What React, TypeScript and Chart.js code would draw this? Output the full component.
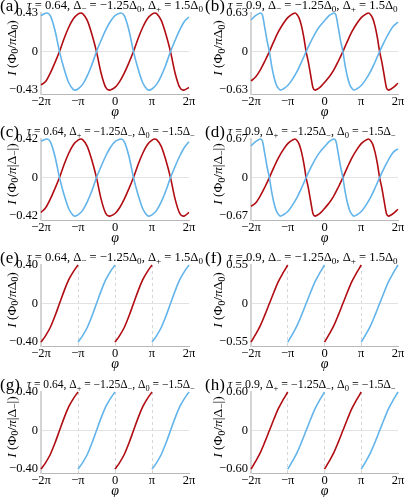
import React, { useEffect, useRef } from "react";
import { Chart, registerables } from "chart.js";

Chart.register(...registerables);

const SERIF = '"Liberation Serif", "Times New Roman", serif';
const BLUE = "#62b4ea";
const RED = "#b00c12";

// x axis (in units of π)
const xTicks = [-2, -1, 0, 1, 2];
const xTickLabels = ["−2π", "−π", "0", "π", "2π"];

// panel texts
const letters = ["(a)", "(b)", "(c)", "(d)", "(e)", "(f)", "(g)", "(h)"];
const titles = [
  "τ = 0.64, Δ_− = −1.25Δ_0, Δ_+ = 1.5Δ_0",
  "τ = 0.9, Δ_− = −1.25Δ_0, Δ_+ = 1.5Δ_0",
  "τ = 0.64, Δ_+ = −1.25Δ_−, Δ_0 = −1.5Δ_−",
  "τ = 0.9, Δ_+ = −1.25Δ_−, Δ_0 = −1.5Δ_−",
  "τ = 0.64, Δ_− = −1.25Δ_0, Δ_+ = 1.5Δ_0",
  "τ = 0.9, Δ_− = −1.25Δ_0, Δ_+ = 1.5Δ_0",
  "τ = 0.64, Δ_+ = −1.25Δ_−, Δ_0 = −1.5Δ_−",
  "τ = 0.9, Δ_+ = −1.25Δ_−, Δ_0 = −1.5Δ_−",
];
const yTitles = [
  "I (Φ_0/πΔ_0)",
  "I (Φ_0/πΔ_0)",
  "I (Φ_0/π|Δ_−|)",
  "I (Φ_0/π|Δ_−|)",
  "I (Φ_0/πΔ_0)",
  "I (Φ_0/πΔ_0)",
  "I (Φ_0/π|Δ_−|)",
  "I (Φ_0/π|Δ_−|)",
];
const yMax = [0.43, 0.63, 0.42, 0.67, 0.4, 0.55, 0.4, 0.6];
const yTickLabels = [
  ["−0.43", "0", "0.43"],
  ["−0.63", "0", "0.63"],
  ["−0.42", "0", "0.42"],
  ["−0.67", "0", "0.67"],
  ["−0.40", "0", "0.40"],
  ["−0.55", "0", "0.55"],
  ["−0.40", "0", "0.40"],
  ["−0.60", "0", "0.60"],
];

// phase grids (units of π)
const phi64Blue = [-2, -1.875, -1.84, -1.75, -1.625, -1.5, -1.375, -1.25, -1.125, -1.08, -1, -0.875, -0.75, -0.625, -0.5, -0.375, -0.25, -0.125, 0, 0.125, 0.16, 0.25, 0.375, 0.5, 0.625, 0.75, 0.875, 0.92, 1, 1.125, 1.25, 1.375, 1.5, 1.625, 1.75, 1.875, 2];
const phi64Red = [-2, -1.875, -1.75, -1.625, -1.5, -1.375, -1.25, -1.125, -1, -0.92, -0.875, -0.75, -0.625, -0.5, -0.375, -0.25, -0.16, -0.125, 0, 0.125, 0.25, 0.375, 0.5, 0.625, 0.75, 0.875, 1, 1.08, 1.125, 1.25, 1.375, 1.5, 1.625, 1.75, 1.84, 1.875, 2];
const phi9Blue = [-2, -1.875, -1.8125, -1.74, -1.6875, -1.625, -1.5625, -1.5, -1.4375, -1.375, -1.3125, -1.25, -1.2, -1.125, -1, -0.875, -0.75, -0.625, -0.5, -0.375, -0.25, -0.125, 0, 0.125, 0.1875, 0.26, 0.3125, 0.375, 0.4375, 0.5, 0.5625, 0.625, 0.6875, 0.75, 0.8, 0.875, 1, 1.125, 1.25, 1.375, 1.5, 1.625, 1.75, 1.875, 2];
const phi9Red = [-2, -1.875, -1.75, -1.625, -1.5, -1.375, -1.25, -1.125, -1, -0.875, -0.8, -0.75, -0.6875, -0.625, -0.5625, -0.5, -0.4375, -0.375, -0.3125, -0.26, -0.1875, -0.125, 0, 0.125, 0.25, 0.375, 0.5, 0.625, 0.75, 0.875, 1, 1.125, 1.2, 1.25, 1.3125, 1.375, 1.4375, 1.5, 1.5625, 1.625, 1.6875, 1.74, 1.8125, 1.875, 2];
const phiSaw = [-2, -1.875, -1.75, -1.625, -1.5, -1.375, -1.25, -1.125, -1, -0.875, -0.75, -0.625, -0.5, -0.375, -0.25, -0.125, 0, 0.125, 0.25, 0.375, 0.5, 0.625, 0.75, 0.875, 1, 1.125, 1.25, 1.375, 1.5, 1.625, 1.75, 1.875, 2];

// (a)
const blueA = [0.4, 0.428, 0.43, 0.4, 0.241, 0, -0.194, -0.348, -0.424, -0.43, -0.417, -0.366, -0.271, -0.146, 0, 0.125, 0.241, 0.335, 0.4, 0.428, 0.43, 0.4, 0.241, 0, -0.194, -0.348, -0.424, -0.43, -0.417, -0.366, -0.271, -0.146, 0, 0.125, 0.241, 0.335, 0.385];
const redA = [-0.37, -0.335, -0.241, -0.125, 0, 0.146, 0.271, 0.366, 0.417, 0.43, 0.424, 0.348, 0.194, 0, -0.241, -0.4, -0.43, -0.428, -0.4, -0.335, -0.241, -0.125, 0, 0.146, 0.271, 0.366, 0.417, 0.43, 0.424, 0.348, 0.194, 0, -0.241, -0.4, -0.43, -0.428, -0.4];
// (b)
const blueB = [0.517, 0.586, 0.611, 0.63, 0.592, 0.391, 0.176, 0, -0.233, -0.416, -0.542, -0.605, -0.63, -0.611, -0.554, -0.454, -0.328, -0.17, 0, 0.158, 0.302, 0.416, 0.504, 0.586, 0.611, 0.63, 0.592, 0.391, 0.176, 0, -0.233, -0.416, -0.542, -0.605, -0.63, -0.611, -0.554, -0.454, -0.328, -0.17, 0, 0.158, 0.302, 0.416, 0.48];
const redB = [-0.48, -0.416, -0.302, -0.158, 0, 0.17, 0.328, 0.454, 0.554, 0.611, 0.63, 0.605, 0.542, 0.416, 0.233, 0, -0.176, -0.391, -0.592, -0.63, -0.611, -0.586, -0.504, -0.416, -0.302, -0.158, 0, 0.17, 0.328, 0.454, 0.554, 0.611, 0.63, 0.605, 0.542, 0.416, 0.233, 0, -0.176, -0.391, -0.592, -0.63, -0.611, -0.586, -0.517];
// (c)
const blueC = [0.395, 0.418, 0.42, 0.391, 0.235, 0, -0.189, -0.34, -0.414, -0.42, -0.407, -0.357, -0.265, -0.143, 0, 0.122, 0.235, 0.328, 0.391, 0.418, 0.42, 0.391, 0.235, 0, -0.189, -0.34, -0.414, -0.42, -0.407, -0.357, -0.265, -0.143, 0, 0.122, 0.235, 0.328, 0.39];
const redC = [-0.38, -0.328, -0.235, -0.122, 0, 0.143, 0.265, 0.357, 0.407, 0.42, 0.414, 0.34, 0.189, 0, -0.235, -0.391, -0.42, -0.418, -0.391, -0.328, -0.235, -0.122, 0, 0.143, 0.265, 0.357, 0.407, 0.42, 0.414, 0.34, 0.189, 0, -0.235, -0.391, -0.42, -0.418, -0.38];
// (d)
const blueD = [0.55, 0.623, 0.65, 0.67, 0.63, 0.415, 0.188, 0, -0.248, -0.442, -0.576, -0.643, -0.67, -0.65, -0.59, -0.482, -0.348, -0.181, 0, 0.168, 0.322, 0.442, 0.536, 0.623, 0.65, 0.67, 0.63, 0.415, 0.188, 0, -0.248, -0.442, -0.576, -0.643, -0.67, -0.65, -0.59, -0.482, -0.348, -0.181, 0, 0.168, 0.322, 0.442, 0.5];
const redD = [-0.5, -0.442, -0.322, -0.168, 0, 0.181, 0.348, 0.482, 0.59, 0.65, 0.67, 0.643, 0.576, 0.442, 0.248, 0, -0.188, -0.415, -0.63, -0.67, -0.65, -0.623, -0.536, -0.442, -0.322, -0.168, 0, 0.181, 0.348, 0.482, 0.59, 0.65, 0.67, 0.643, 0.576, 0.442, 0.248, 0, -0.188, -0.415, -0.63, -0.67, -0.65, -0.623, -0.55];
// (e)
const redE = [-0.4, -0.332, -0.248, -0.132, 0, 0.132, 0.248, 0.332, 0.4, null, null, null, null, null, null, null, -0.4, -0.332, -0.248, -0.132, 0, 0.132, 0.248, 0.332, 0.4, null, null, null, null, null, null, null, null];
const blueE = [null, null, null, null, null, null, null, null, -0.4, -0.332, -0.248, -0.132, 0, 0.132, 0.248, 0.332, 0.4, null, null, null, null, null, null, null, -0.4, -0.332, -0.248, -0.132, 0, 0.132, 0.248, 0.332, 0.4];
// (f)
const redF = [-0.55, -0.44, -0.319, -0.165, 0, 0.165, 0.319, 0.44, 0.55, null, null, null, null, null, null, null, -0.55, -0.44, -0.319, -0.165, 0, 0.165, 0.319, 0.44, 0.55, null, null, null, null, null, null, null, null];
const blueF = [null, null, null, null, null, null, null, null, -0.55, -0.44, -0.319, -0.165, 0, 0.165, 0.319, 0.44, 0.55, null, null, null, null, null, null, null, -0.55, -0.44, -0.319, -0.165, 0, 0.165, 0.319, 0.44, 0.55];
// (g)
const redG = [-0.4, -0.332, -0.248, -0.132, 0, 0.132, 0.248, 0.332, 0.4, null, null, null, null, null, null, null, -0.4, -0.332, -0.248, -0.132, 0, 0.132, 0.248, 0.332, 0.4, null, null, null, null, null, null, null, null];
const blueG = [null, null, null, null, null, null, null, null, -0.4, -0.332, -0.248, -0.132, 0, 0.132, 0.248, 0.332, 0.4, null, null, null, null, null, null, null, -0.4, -0.332, -0.248, -0.132, 0, 0.132, 0.248, 0.332, 0.4];
// (h)
const redH = [-0.6, -0.48, -0.348, -0.18, 0, 0.18, 0.348, 0.48, 0.6, null, null, null, null, null, null, null, -0.6, -0.48, -0.348, -0.18, 0, 0.18, 0.348, 0.48, 0.6, null, null, null, null, null, null, null, null];
const blueH = [null, null, null, null, null, null, null, null, -0.6, -0.48, -0.348, -0.18, 0, 0.18, 0.348, 0.48, 0.6, null, null, null, null, null, null, null, -0.6, -0.48, -0.348, -0.18, 0, 0.18, 0.348, 0.48, 0.6];

type Series = { x: number[]; y: (number | null)[]; color: string };
const panelSeries: Series[][] = [
  [{ x: phi64Blue, y: blueA, color: BLUE }, { x: phi64Red, y: redA, color: RED }],
  [{ x: phi9Blue, y: blueB, color: BLUE }, { x: phi9Red, y: redB, color: RED }],
  [{ x: phi64Blue, y: blueC, color: BLUE }, { x: phi64Red, y: redC, color: RED }],
  [{ x: phi9Blue, y: blueD, color: BLUE }, { x: phi9Red, y: redD, color: RED }],
  [{ x: phiSaw, y: blueE, color: BLUE }, { x: phiSaw, y: redE, color: RED }],
  [{ x: phiSaw, y: blueF, color: BLUE }, { x: phiSaw, y: redF, color: RED }],
  [{ x: phiSaw, y: blueG, color: BLUE }, { x: phiSaw, y: redG, color: RED }],
  [{ x: phiSaw, y: blueH, color: BLUE }, { x: phiSaw, y: redH, color: RED }],
];

// layout (pixels)
const COL_LEFT = [0, 205];
const COL_WIDTH = [205, 210];
const Y_AXIS_W = [41, 46];
const RIGHT_PAD = [16, 17];
const ROW_TOP = [0, 126, 252, 379];
const CANVAS_H = 124;
const TOP_PAD = 13;
const X_AXIS_H = 30;
const TITLE_X = [27, 23];
const TITLE_MAX_W = [176, 174, 168, 168, 176, 174, 168, 168];

const ITALIC = new Set(["τ", "π", "φ", "I"]);
type Run = { t: string; sub: boolean; it: boolean };
function parseRich(s: string): Run[] {
  const runs: Run[] = [];
  for (let i = 0; i < s.length; i++) {
    let ch = s[i];
    let sub = false;
    if (ch === "_" && i + 1 < s.length) {
      sub = true;
      i++;
      ch = s[i];
    }
    runs.push({ t: ch, sub, it: ITALIC.has(ch) });
  }
  return runs;
}
function runFont(r: Run, size: number) {
  const sz = r.sub ? Math.round(size * 0.72 * 10) / 10 : size;
  return `${r.it ? "italic " : ""}${sz}px ${SERIF}`;
}
function measureRich(ctx: CanvasRenderingContext2D, s: string, size: number) {
  let w = 0;
  for (const r of parseRich(s)) {
    ctx.font = runFont(r, size);
    w += ctx.measureText(r.t).width;
  }
  return w;
}
function drawRich(ctx: CanvasRenderingContext2D, s: string, x: number, y: number, size: number) {
  let cx = x;
  for (const r of parseRich(s)) {
    ctx.font = runFont(r, size);
    ctx.fillText(r.t, cx, r.sub ? y + size * 0.22 : y);
    cx += ctx.measureText(r.t).width;
  }
}

function Panel({ idx }: { idx: number }) {
  const ref = useRef<HTMLCanvasElement>(null);
  const col = idx % 2;
  const row = Math.floor(idx / 2);
  useEffect(() => {
    const canvas = ref.current;
    if (!canvas) return;
    const max = yMax[idx];
    const dashed = idx >= 4;
    const textPlugin = {
      id: "panelText" + idx,
      afterDraw(chart: any) {
        const ctx: CanvasRenderingContext2D = chart.ctx;
        const ca = chart.chartArea;
        ctx.save();
        ctx.fillStyle = "#000";
        ctx.textBaseline = "alphabetic";
        ctx.textAlign = "left";
        ctx.font = `17px ${SERIF}`;
        ctx.fillText(letters[idx], 0, ca.top - 2);
        const base = 12.6;
        const tw = measureRich(ctx, titles[idx], base);
        const ts = Math.min(base, (base * TITLE_MAX_W[idx]) / tw);
        drawRich(ctx, titles[idx], TITLE_X[col], ca.top - 4, ts);
        const yt = yTitles[idx];
        const w = measureRich(ctx, yt, 13.5);
        const cy = ca.top + 35;
        ctx.translate(col === 0 ? 11 : 12.5, cy);
        ctx.rotate(-Math.PI / 2);
        drawRich(ctx, yt, -w / 2, 4.5, 13.5);
        ctx.restore();
      },
    };
    const chart = new Chart(canvas, {
      type: "line",
      data: {
        datasets: panelSeries[idx].map((s) => ({
          data: s.x.map((x, i) => ({ x, y: s.y[i] })),
          borderColor: s.color,
          borderWidth: 1.6,
          pointRadius: 0,
          fill: false,
          cubicInterpolationMode: "monotone",
          spanGaps: false,
          clip: false,
        })),
      },
      options: {
        animation: false,
        responsive: false,
        devicePixelRatio: 1,
        events: [],
        layout: { padding: { top: TOP_PAD, right: RIGHT_PAD[col], left: 0, bottom: 0 } },
        plugins: { legend: { display: false }, tooltip: { enabled: false }, title: { display: false } },
        scales: {
          x: {
            type: "linear",
            min: -2,
            max: 2,
            afterFit: (s: any) => {
              s.height = X_AXIS_H;
            },
            afterBuildTicks: (s: any) => {
              s.ticks = xTicks.map((v) => ({ value: v }));
            },
            ticks: {
              autoSkip: false,
              maxRotation: 0,
              padding: 0,
              color: "#000",
              font: { family: SERIF, size: 12.5 },
              callback: (_v: any, i: number) => xTickLabels[i],
            },
            grid: {
              drawTicks: false,
              lineWidth: 1,
              color: (c: any) =>
                dashed && c.tick && [-1, 0, 1].includes(c.tick.value) ? "#d6d6d6" : "rgba(0,0,0,0)",
            },
            border: { display: true, color: "#b8b8b8", width: 1, dash: dashed ? [3, 3] : [] },
            title: {
              display: true,
              text: "φ",
              color: "#000",
              font: { family: SERIF, size: 14, style: "italic" },
              padding: { top: 0, bottom: 3 },
            },
          },
          y: {
            type: "linear",
            min: -max * 1.1,
            max: max,
            afterFit: (s: any) => {
              s.width = Y_AXIS_W[col];
            },
            afterBuildTicks: (s: any) => {
              s.ticks = [-max, 0, max].map((v) => ({ value: v }));
            },
            ticks: {
              autoSkip: false,
              padding: 3,
              color: "#000",
              font: { family: SERIF, size: 12.5 },
              callback: (_v: any, i: number) => yTickLabels[idx][i],
            },
            grid: {
              drawTicks: false,
              lineWidth: 1,
              color: (c: any) => (c.tick && c.tick.value === 0 ? "#e2e2e2" : "rgba(0,0,0,0)"),
            },
            border: { display: true, color: "#d4d4d4", width: 2 },
          },
        },
      },
      plugins: [textPlugin],
    } as any);
    return () => chart.destroy();
  }, [idx, col]);
  return (
    <canvas
      ref={ref}
      width={COL_WIDTH[col]}
      height={CANVAS_H}
      style={{
        position: "absolute",
        left: COL_LEFT[col],
        top: ROW_TOP[row],
        width: COL_WIDTH[col],
        height: CANVAS_H,
        display: "block",
      }}
    />
  );
}

export default function App() {
  return (
    <div
      style={{
        position: "fixed",
        left: 0,
        top: 0,
        width: 415,
        height: 497,
        overflow: "hidden",
        background: "#fff",
      }}
    >
      {letters.map((_, i) => (
        <Panel key={i} idx={i} />
      ))}
    </div>
  );
}
